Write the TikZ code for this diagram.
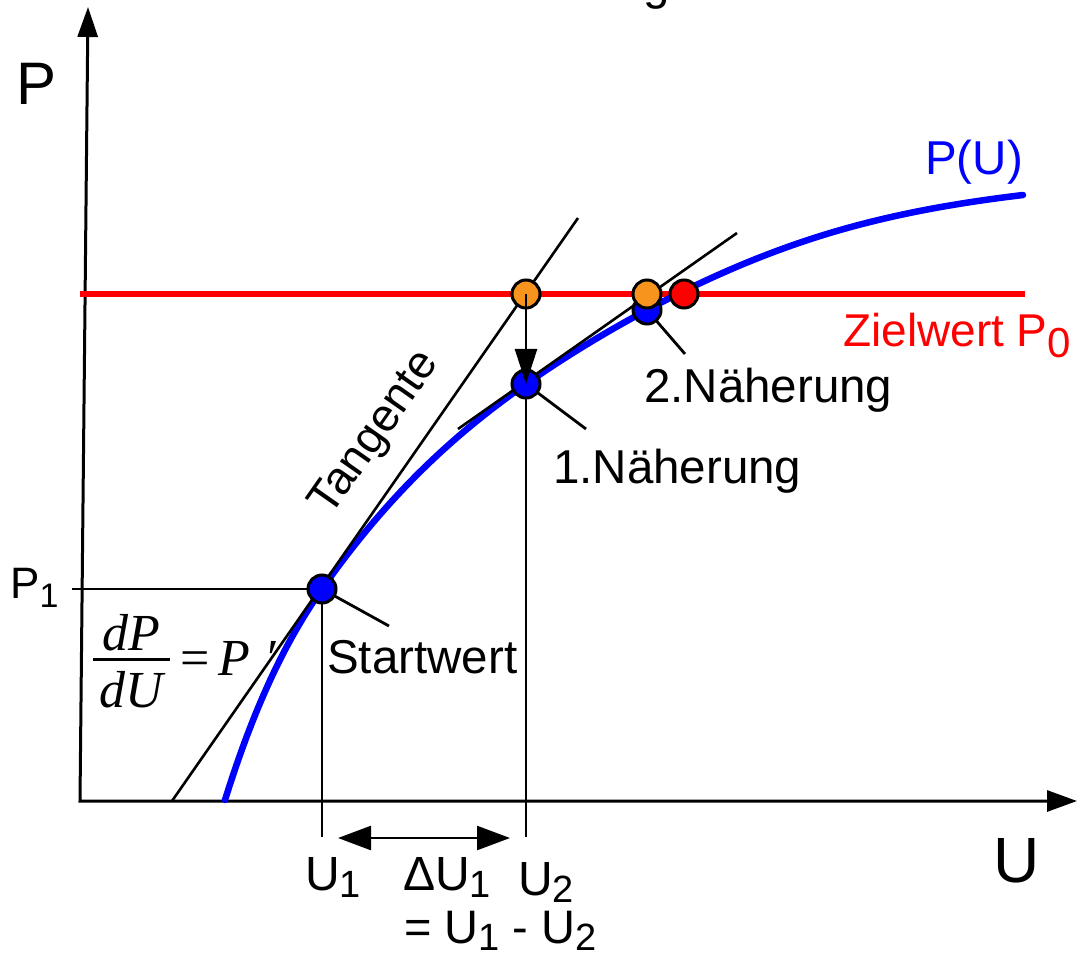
\documentclass[tikz,border=0pt]{standalone}
\usepackage{fontspec}
\setmainfont{Liberation Sans}
\newfontfamily\timesf{Liberation Serif}
\usetikzlibrary{arrows.meta}
\definecolor{dotorange}{RGB}{247,148,29}
\definecolor{pblue}{RGB}{0,0,255}
\definecolor{pred}{RGB}{255,0,0}
\newcommand\fs[1]{\fontsize{#1}{#1}\selectfont}
\newcommand\lsub[3]{\raisebox{-#1pt}{\fs{#2}#3}}
\tikzset{
  axisline/.style={line width=3pt},
  thinline/.style={line width=2pt},
  tanline/.style={line width=2.6pt},
  ptrline/.style={line width=2.8pt},
  bluecurve/.style={line width=6.5pt, pblue, line cap=round},
  redline/.style={line width=6.5pt, pred},
  dotnode/.style={circle, draw=black, line width=3pt, minimum size=28pt, inner sep=0pt},
  lbl/.style={inner sep=0pt, font=\fs{47.5}},
  frac/.style={inner sep=0pt, font=\timesf\itshape\fs{52}},
  fracup/.style={inner sep=0pt, font=\timesf\fs{52}},
}
\begin{document}
\begin{tikzpicture}[x=1pt,y=-1pt]
\useasboundingbox (0,0) rectangle (1081,965);
% coordinates
\coordinate (O) at (80,801);
\coordinate (Ytop) at (88,7);
\coordinate (Xend) at (1077,801);
\coordinate (C0) at (225,800);
\coordinate (S) at (322,589);
\coordinate (N1) at (526,384);
\coordinate (N2) at (647,310);
\coordinate (C4) at (830,233);
\coordinate (C5) at (1023,195);
\coordinate (O1) at (526,294);
\coordinate (O2) at (647,294);
\coordinate (Z) at (684,294);
\coordinate (P1t) at (72,589);
\coordinate (U1b) at (322,837);
\coordinate (U2b) at (526,837);
\coordinate (Rl) at (80,294);
\coordinate (Rr) at (1025,294);
\coordinate (T1a) at (172,801);
\coordinate (T1b) at (578,218);
\coordinate (T2a) at (458,429);
\coordinate (T2b) at (737,233);
\coordinate (Sp) at (389,626);
\coordinate (N1p) at (586,429);
\coordinate (N2p) at (685,354);
\coordinate (D1) at (338,838);
\coordinate (D2) at (510,838);
\coordinate (FB1) at (93,659);
\coordinate (FB2) at (170,659);
% axes
\draw[axisline, {Triangle[length=30pt,width=20pt]}-{Triangle[length=30pt,width=21pt]}] (Ytop) -- (O) -- (Xend);
% helper lines
\draw[thinline] (P1t) -- (S);
\draw[thinline] (S) -- (U1b);
\draw[thinline] (N1) -- (U2b);
% target line
\draw[redline] (Rl) -- (Rr);
% curve P(U)
\draw[bluecurve] (C0) .. controls (257.3,696.6) and (289.7,635.2) .. (S)
  .. controls (390,491.8) and (458,431.6) .. (N1)
  .. controls (566.3,355.8) and (606.7,331.6) .. (N2)
  .. controls (708,277.2) and (769,251.3) .. (C4)
  .. controls (894.3,213.7) and (958.7,202.7) .. (C5);
% tangents
\draw[tanline] (T1a) -- (T1b);
\draw[tanline] (T2a) -- (T2b);
% pointers
\draw[ptrline] (S) -- (Sp);
\draw[ptrline] (N1) -- (N1p);
\draw[ptrline] (N2) -- (N2p);
% dots
\node[dotnode, fill=pblue] (n2dot) at (N2) {};
\node[dotnode, fill=dotorange] (o2dot) at (O2) {};
\node[dotnode, fill=pred] (zdot) at (Z) {};
\node[dotnode, fill=dotorange] (o1dot) at (O1) {};
\node[dotnode, fill=pblue] (n1dot) at (N1) {};
\node[dotnode, fill=pblue] (sdot) at (S) {};
% arrows
\draw[line width=2.5pt, -{Triangle[length=35pt,width=22pt]}] (o1dot.center) -- (n1dot.center);
\draw[line width=2.5pt, {Triangle[length=33pt,width=24pt]}-{Triangle[length=33pt,width=24pt]}] (D1) -- (D2);
% labels
\node[lbl, anchor=base west, font=\fs{60}] (Plab) at (16,105) {P};
\node[lbl, anchor=base west, font=\fs{64}] (Ulab) at (993,882) {U};
\node[lbl, anchor=base west, text=pblue] (PUl) at (925,175) {P(U)};
\node[lbl, anchor=base west, text=pred, font=\fs{46}] (Ziel) at (843,347) {Zielwert P\lsub{11}{42}{0}};
\node[lbl, anchor=base west] (N2l) at (644,402) {2.Näherung};
\node[lbl, anchor=base west] (N1l) at (553,483) {1.Näherung};
\node[lbl, anchor=base west] (Sl) at (327,673) {Startwert};
\node[lbl, rotate=55, font=\fs{46}] (Tl) at (376,434) {Tangente};
\node[lbl, anchor=base west, font=\fs{44}] (P1l) at (10,598) {P\lsub{9}{34}{1}};
\node[lbl, anchor=base west, font=\fs{48}] (U1l) at (305,890) {U\lsub{7}{38}{1}};
\node[lbl, anchor=base west, font=\fs{48}] (dUl) at (403,890) {ΔU\lsub{7}{38}{1}};
\node[lbl, anchor=base west, font=\fs{48}] (U2l) at (518,895) {U\lsub{7}{38}{2}};
\node[lbl, anchor=base west, font=\fs{47}] (eql) at (404,943) {= U\lsub{7}{38}{1} - U\lsub{7}{38}{2}};
\node[lbl, anchor=base west] (topg) at (643,0) {g};
% fraction
\node[frac, anchor=base] (num) at (131,650) {dP};
\draw[line width=3pt] (FB1) -- (FB2);
\node[frac, anchor=base] (den) at (131,707) {dU};
\node[fracup, anchor=base] (feq) at (195,675) {=};
\node[frac, anchor=base west] (fP) at (218,675) {P};
\node[frac, anchor=base west] (fpr) at (264,675) {′};
\end{tikzpicture}
\end{document}
